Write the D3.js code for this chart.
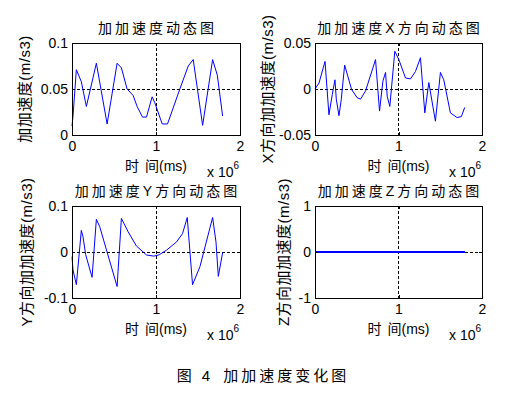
<!DOCTYPE html>
<html><head><meta charset="utf-8">
<script src="https://cdn.jsdelivr.net/npm/d3@7"></script>
<style>
body{margin:0;background:#fff;}
text{font-family:"Liberation Sans",Arial,"Noto Sans CJK SC",sans-serif;fill:#000;}
</style></head>
<body><svg id="c" width="524" height="396"></svg>
<script>
// time in units of 1e6 ms
const t1 = [0,0.012,0.052,0.111,0.171,0.29,0.418,0.537,0.588,0.656,0.728,0.775,0.839,0.887,0.954,0.986,1.074,1.137,1.284,1.384,1.443,1.555,1.674,1.730,1.793];
const jerk = [0.0097,0.0206,0.071,0.058,0.031,0.078,0.012,0.078,0.073,0.050,0.043,0.031,0.0195,0.0195,0.0415,0.035,0.012,0.012,0.050,0.075,0.082,0.0105,0.082,0.065,0.0206];
const t2 = [0,0.048,0.12,0.167,0.207,0.239,0.255,0.287,0.315,0.355,0.438,0.506,0.546,0.606,0.725,0.773,0.813,0.845,0.865,0.896,0.956,1.004,1.084,1.143,1.203,1.263,1.315,1.363,1.442,1.502,1.542,1.622,1.701,1.753,1.793];
const jerkX = [0,0.0065,0.030,-0.028,-0.006,0.010,-0.011,-0.029,-0.011,0.026,-0.0005,-0.0096,-0.011,-0.002,0.032,-0.024,0.0085,0.018,-0.008,-0.019,0.041,0.032,0.012,0.011,0.019,0.034,-0.026,0.007,-0.035,0.018,0.010,-0.026,-0.031,-0.030,-0.020];
const t3 = [0,0.012,0.052,0.111,0.131,0.163,0.239,0.29,0.330,0.537,0.588,0.668,0.767,0.887,0.974,1.038,1.125,1.245,1.316,1.372,1.435,1.523,1.674,1.714,1.742,1.793];
const jerkY = [-0.010,-0.039,-0.071,0.047,0.033,-0.006,-0.055,0.071,0.055,-0.075,0.073,0.044,0.013,-0.0065,-0.009,-0.006,0.004,0.022,0.040,0.075,-0.071,-0.032,0.075,0.022,-0.053,-0.0015];
const t4 = [0,1.793];
const jerkZ = [0,0];
const xTicks = [0,1,2];
const xTickLabels = ["0","1","2"];

const panels = [
  {x0:72,x1:240,y0:43,y1:135,t:t1,v:jerk,yd:[0,0.1],yt:[0,0.05,0.1],ytl:["0","0.05","0.1"],title:"加加速度动态图",ylab:"加加速度(m/s3)",ylx:25},
  {x0:315,x1:482,y0:43,y1:135,t:t2,v:jerkX,yd:[-0.05,0.05],yt:[-0.05,0,0.05],ytl:["-0.05","0","0.05"],title:"加加速度X方向动态图",ylab:"X方向加加速度(m/s3)",ylx:268},
  {x0:72,x1:240,y0:206,y1:298,t:t3,v:jerkY,yd:[-0.1,0.1],yt:[-0.1,0,0.1],ytl:["-0.1","0","0.1"],title:"加加速度Y方向动态图",ylab:"Y方向加加速度(m/s3)",ylx:27},
  {x0:315,x1:482,y0:206,y1:298,t:t4,v:jerkZ,yd:[-1,1],yt:[-1,0,1],ytl:["-1","0","1"],title:"加加速度Z方向动态图",ylab:"Z方向加加速度(m/s3)",ylx:284,crisp:true}
];

const svg = d3.select("#c");
panels.forEach(p=>{
  const g = svg.append("g");
  const x = d3.scaleLinear().domain([0,2]).range([p.x0,p.x1]);
  const y = d3.scaleLinear().domain(p.yd).range([p.y1,p.y0]);
  // grid
  xTicks.forEach(v=>{
    g.append("line").attr("x1",x(v)).attr("x2",x(v)).attr("y1",p.y0).attr("y2",p.y1)
     .attr("stroke","#000").attr("stroke-dasharray","3,2").attr("stroke-width",1).attr("shape-rendering","crispEdges");
  });
  p.yt.forEach(v=>{
    g.append("line").attr("x1",p.x0).attr("x2",p.x1).attr("y1",y(v)).attr("y2",y(v))
     .attr("stroke","#000").attr("stroke-dasharray","3,2").attr("stroke-width",1).attr("shape-rendering","crispEdges");
  });
  // line
  const line = d3.line().x((d,i)=>x(p.t[i])).y(d=>y(d));
  g.append("path").datum(p.v).attr("d",line).attr("fill","none").attr("stroke","#0000ff")
    .attr("stroke-width",p.crisp?1.5:1).attr("shape-rendering",p.crisp?"crispEdges":null);
  // axes with inward ticks
  const ax = (gen)=>gen.tickSizeInner(-3).tickSizeOuter(0);
  const bottom = g.append("g").attr("transform",`translate(0,${p.y1})`)
    .call(ax(d3.axisBottom(x)).tickValues(xTicks).tickFormat((d,i)=>xTickLabels[i]));
  const top = g.append("g").attr("transform",`translate(0,${p.y0})`)
    .call(ax(d3.axisTop(x)).tickValues(xTicks).tickFormat(""));
  const left = g.append("g").attr("transform",`translate(${p.x0},0)`)
    .call(ax(d3.axisLeft(y)).tickValues(p.yt).tickFormat((d,i)=>p.ytl[i]));
  const right = g.append("g").attr("transform",`translate(${p.x1},0)`)
    .call(ax(d3.axisRight(y)).tickValues(p.yt).tickFormat(""));
  [bottom,top,left,right].forEach(a=>{
    a.select(".domain").remove();
    a.selectAll("line").attr("stroke","#000").attr("shape-rendering","crispEdges");
    a.selectAll("text").attr("font-size",14).attr("font-family",null).attr("fill","#000");
  });
  bottom.selectAll("text").attr("y",6);
  left.selectAll("text").attr("x",-4);
  // box
  g.append("rect").attr("x",p.x0).attr("y",p.y0).attr("width",p.x1-p.x0).attr("height",p.y1-p.y0)
    .attr("fill","none").attr("stroke","#000").attr("stroke-width",1).attr("shape-rendering","crispEdges");
  // title
  g.append("text").attr("x",(p.x0+p.x1)/2+1.5).attr("y",p.y0-10).attr("text-anchor","middle")
    .attr("font-size",14).style("letter-spacing","3px").text(p.title);
  // xlabel
  const xl = g.append("text").attr("x",(p.x0+p.x1)/2).attr("y",p.y1+36).attr("text-anchor","middle")
    .attr("font-size",14);
  xl.append("tspan").text("时");
  xl.append("tspan").attr("dx",6).text("间(ms)");
  // x10^6
  const m = g.append("text").attr("x",p.x1-33).attr("y",p.y1+42).attr("font-size",14);
  m.append("tspan").text("x 10");
  m.append("tspan").attr("dy",-8).attr("font-size",10).text("6");
  // ylabel
  g.append("text").attr("transform",`translate(${p.ylx},${(p.y0+p.y1)/2}) rotate(-90)`)
    .attr("text-anchor","middle").attr("dy","0.35em").attr("font-size",15)
    .style("letter-spacing","0.5px").text(p.ylab);
});
const cap = svg.append("text").attr("x",263).attr("y",381).attr("text-anchor","middle").attr("font-size",15)
  .style("letter-spacing","3px");
cap.append("tspan").text("图 4");
cap.append("tspan").attr("dx",3).text(" 加加速度变化图");
</script></body></html>
